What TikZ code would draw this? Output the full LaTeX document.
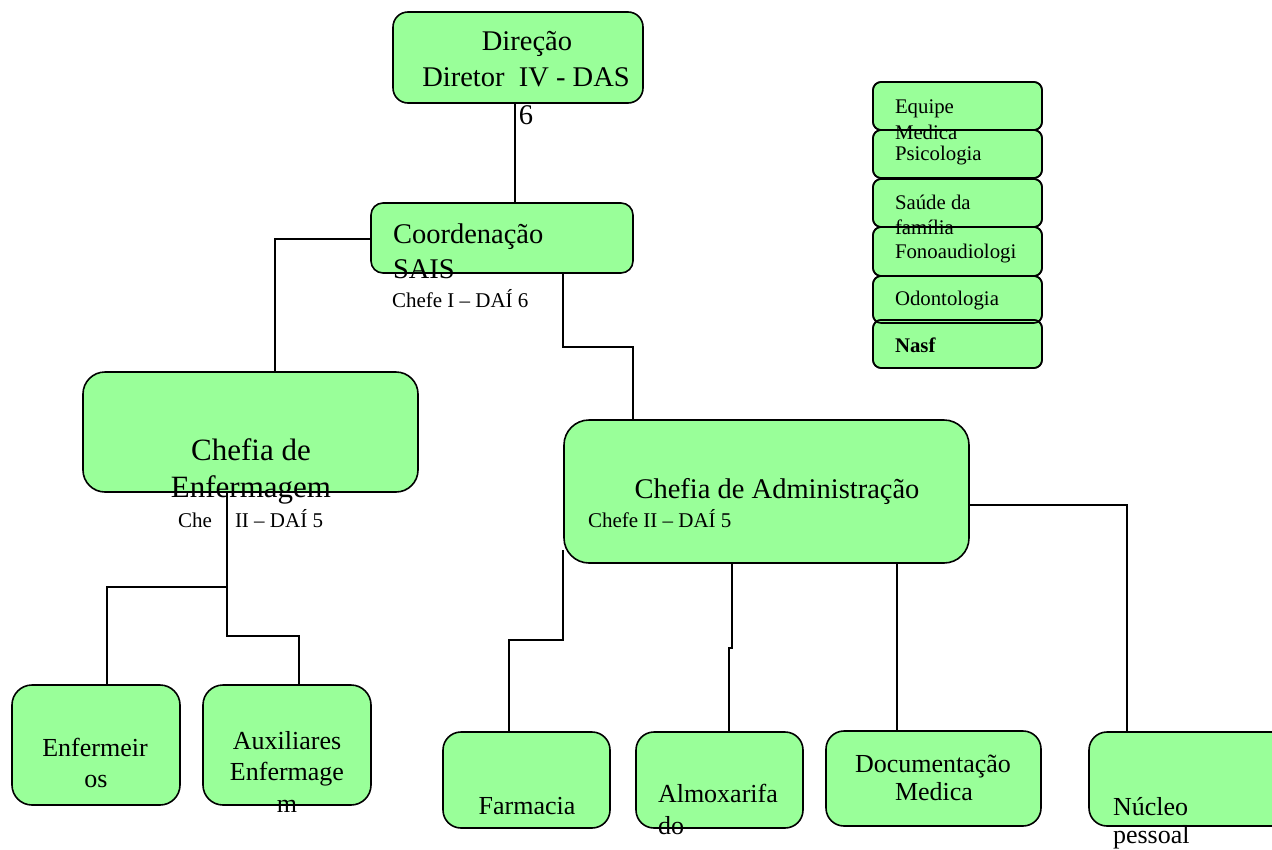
\documentclass[tikz,border=0pt]{standalone}
\usepackage{fontspec}
\setmainfont{Liberation Serif}
\definecolor{boxgreen}{RGB}{153,255,153}
\tikzset{
 box/.style={draw=black, fill=boxgreen, line width=1.6pt, inner sep=0pt, outer sep=0pt},
 conn/.style={draw=black, line width=1.5pt},
 lbl/.style={inner sep=0pt, outer sep=0pt, anchor=base, text=black},
 huge/.style={lbl, font=\fontsize{31}{36}\selectfont},
 big/.style={lbl, font=\fontsize{28.5}{34}\selectfont},
 mid/.style={lbl, font=\fontsize{26}{30}\selectfont},
 small/.style={lbl, font=\fontsize{21}{24}\selectfont},
 tiny/.style={lbl, anchor=base west, font=\fontsize{20.8}{24}\selectfont},
 rim/.style={draw=black, line width=1.6pt, rounded corners=8pt},
}
\begin{document}
\begin{tikzpicture}[x=1pt,y=-1pt]
\clip (0,0) rectangle (1272,849);
\fill[white] (0,0) rectangle (1272,849);

% boxes
\node[box, rounded corners=15pt, minimum width=250pt, minimum height=91pt] (dir) at (518,57.5) {};
\node[box, rounded corners=12pt, minimum width=262pt, minimum height=70pt] (coord) at (502,238) {};
\node[box, rounded corners=22pt, minimum width=335pt, minimum height=120pt] (enf) at (250.5,432) {};
\node[box, rounded corners=25pt, minimum width=405pt, minimum height=143pt] (admin) at (766.5,491.5) {};
\node[box, rounded corners=20pt, minimum width=168pt, minimum height=120pt] (enfo) at (96,745) {};
\node[box, rounded corners=20pt, minimum width=168pt, minimum height=120pt] (aux) at (287,745) {};
\node[box, rounded corners=18pt, minimum width=167pt, minimum height=96pt] (farm) at (526.5,780) {};
\node[box, rounded corners=18pt, minimum width=167pt, minimum height=96pt] (almox) at (719.5,780) {};
\node[box, rounded corners=18pt, minimum width=215pt, minimum height=95pt] (doc) at (933.5,778.5) {};
\node[box, rounded corners=18pt, minimum width=201pt, minimum height=94pt] (nuc) at (1189.5,779) {};

% connectors
\draw[conn] ([xshift=-3pt]dir.south) -- ([xshift=13pt]coord.north);
\draw[conn] ([yshift=-1pt]coord.west) -| ([xshift=24.5pt]enf.north);
\draw[conn] ([xshift=61pt]coord.south) -- ++(0,74) -| ([xshift=-133.5pt]admin.north);
\draw[conn] ([xshift=-23.5pt]enf.south) -- ++(0,95) -| ([xshift=11pt]enfo.north);
\draw[conn] ([xshift=-23.5pt]enf.south) -- ++(0,144) -| ([xshift=12pt]aux.north);
\draw[conn] ([yshift=-58.5pt,xshift=-1pt]admin.west) -- ++(0,90) -| ([xshift=-17.5pt]farm.north);
\draw[conn] ([xshift=-34.5pt]admin.south) -- ++(0,85) -| ([xshift=9.5pt]almox.north);
\draw[conn] ([xshift=130.5pt]admin.south) -- ([xshift=-36.5pt]doc.north);
\draw[conn] ([yshift=-13.5pt]admin.east) -| ([xshift=-62.5pt]nuc.north);

% texts of main boxes
\node[big] (t1) at (527,50) {Direção};
\node[big] (t2) at (526,86) {Diretor\ \ IV - DAS};
\node[big] (t3) at (526,124) {6};
\node[big, anchor=base west] (t4) at (393,243) {Coordenação};
\node[big, anchor=base west] (t5) at (393,278) {SAIS};
\node[small, anchor=base west] (t6) at (392,307) {Chefe I – DAÍ 6};
\node[huge] (t7) at (251,460) {Chefia de};
\node[huge] (t8) at (251,497) {Enfermagem};
\node[small, anchor=base west] (t9) at (178,527) {Che};
\node[small, anchor=base west] (t10) at (235,527) {II – DAÍ 5};
\node[big] (t11) at (777,498) {Chefia de Administração};
\node[small, anchor=base west] (t12) at (588,527) {Chefe II – DAÍ 5};
\node[mid] (t13) at (95,756) {Enfermeir};
\node[mid] (t14) at (96,787) {os};
\node[mid] (t15) at (287,749) {Auxiliares};
\node[mid] (t16) at (287,780) {Enfermage};
\node[mid] (t17) at (287,812) {m};
\node[mid] (t18) at (527,814) {Farmacia};
\node[mid, anchor=base west] (t19) at (658,802) {Almoxarifa};
\node[mid, anchor=base west] (t20) at (658,834) {do};
\node[mid] (t21) at (933,772) {Documentação};
\node[mid] (t22) at (934,800) {Medica};
\node[mid, anchor=base west] (t23) at (1113,815) {Núcleo};
\node[mid, anchor=base west] (t24) at (1113,843) {pessoal};

% right stack
\node[box, rounded corners=8pt, minimum width=169pt, minimum height=48pt] (s1) at (957.5,106) {};
\node[box, rounded corners=8pt, minimum width=169pt, minimum height=48pt] (s2) at (957.5,154) {};
\node[box, rounded corners=8pt, minimum width=169pt, minimum height=48pt] (s3) at (957.5,203) {};
\node[box, rounded corners=8pt, minimum width=169pt, minimum height=49pt] (s4) at (957.5,251.5) {};
\node[box, rounded corners=8pt, minimum width=169pt, minimum height=47pt] (s5) at (957.5,299.5) {};
\node[box, rounded corners=8pt, minimum width=169pt, minimum height=48pt] (s6) at (957.5,344) {};
\node[tiny] (u1) at (895,113) {Equipe};
\node[tiny] (u2) at (895,139) {Medica};
\node[tiny] (u3) at (895,160) {Psicologia};
\node[tiny] (u4) at (895,209) {Saúde da};
\node[tiny] (u5) at (895,234) {família};
\node[tiny] (u6) at (895,258) {Fonoaudiologi};
\node[tiny] (u7) at (895,305) {Odontologia};
\node[tiny, font=\fontsize{20.8}{24}\selectfont\bfseries] (u8) at (895,352) {Nasf};
\foreach \s in {s1,s2,s3,s4,s5,s6} {
  \draw[rim] (\s.south west) rectangle (\s.north east);
}
\end{tikzpicture}
\end{document}
